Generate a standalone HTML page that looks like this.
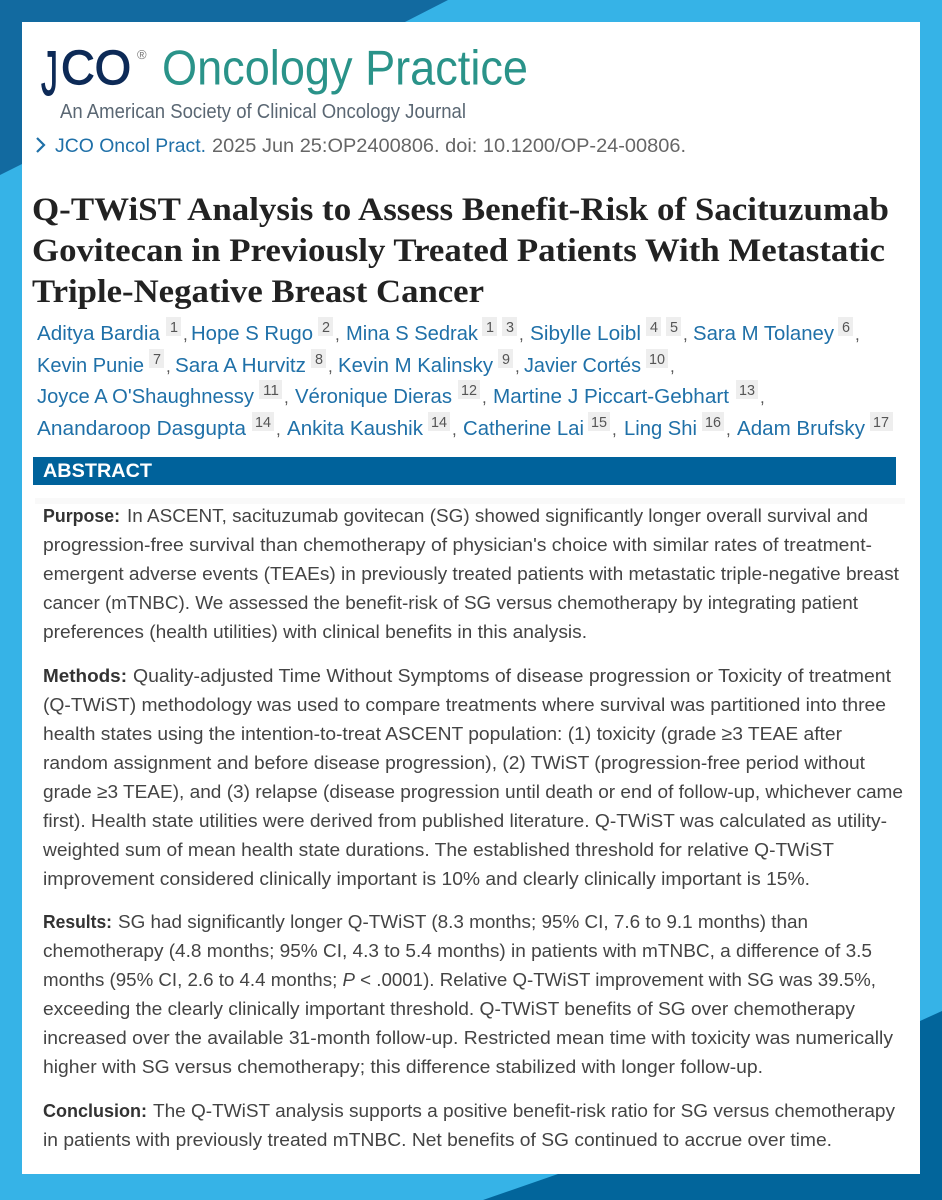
<!DOCTYPE html>
<html lang="en">
<head>
<meta charset="utf-8">
<title>Q-TWiST Analysis abstract</title>
<style>
html,body{margin:0;padding:0;width:942px;height:1200px;overflow:hidden;background:#36b3e7}
svg{display:block}
text{white-space:pre}
.body{font:18.8px "Liberation Sans",sans-serif;fill:#444}
.lead{font:bold 18.8px "Liberation Sans",sans-serif;fill:#333}
.title{font:bold 33px "Liberation Serif",serif;fill:#222}
.au{font:20px "Liberation Sans",sans-serif;fill:#1f70a8}
.sup{font:15px "Liberation Sans",sans-serif;fill:#555}
.com{font:17px "Liberation Sans",sans-serif;fill:#555}
</style>
</head>
<body>
<svg width="942" height="1200" viewBox="0 0 942 1200" xmlns="http://www.w3.org/2000/svg">
<rect width="942" height="1200" fill="#36b3e7"/>
<polygon points="0,0 448,0 403,23 22,164 0,175" fill="#126aa0"/>
<polygon points="942,1011 920,1021 558,1174 483,1200 942,1200" fill="#02659b"/>
<rect x="22" y="22" width="898" height="1152" fill="#fff"/>

<g>
<text x="41" y="95" font-family="Liberation Sans" font-size="63" fill="#0d2a57" stroke="#0d2a57" stroke-width="1" textLength="17" lengthAdjust="spacingAndGlyphs">J</text>
<text x="61" y="84" font-family="Liberation Sans" font-size="48" fill="#0d2a57" stroke="#0d2a57" stroke-width="1.2" textLength="70" lengthAdjust="spacingAndGlyphs">CO</text>
</g>
<text x="137" y="59" font-family="Liberation Sans" font-size="13" fill="#777">®</text>
<text x="162" y="84.5" font-family="Liberation Sans" font-size="49" fill="#2a9389" textLength="366" lengthAdjust="spacingAndGlyphs">Oncology Practice</text>
<text x="60" y="118" font-family="Liberation Sans" font-size="20" fill="#5a6773" textLength="406" lengthAdjust="spacingAndGlyphs">An American Society of Clinical Oncology Journal</text>
<polyline points="37,138 44,145 37,152" fill="none" stroke="#1f70a8" stroke-width="2.2"/>
<text x="55" y="152" font-family="Liberation Sans" font-size="19.5" fill="#1f70a8" textLength="151" lengthAdjust="spacingAndGlyphs">JCO Oncol Pract.</text>
<text x="212" y="152" font-family="Liberation Sans" font-size="19.5" fill="#666" textLength="474" lengthAdjust="spacingAndGlyphs">2025 Jun 25:OP2400806. doi: 10.1200/OP-24-00806.</text>

<text class="title" x="32" y="220" textLength="857" lengthAdjust="spacingAndGlyphs">Q-TWiST Analysis to Assess Benefit-Risk of Sacituzumab</text>
<text class="title" x="32" y="261" textLength="853" lengthAdjust="spacingAndGlyphs">Govitecan in Previously Treated Patients With Metastatic</text>
<text class="title" x="32" y="302" textLength="452" lengthAdjust="spacingAndGlyphs">Triple-Negative Breast Cancer</text>

<g>
<text class="au" x="37" y="340" textLength="123" lengthAdjust="spacingAndGlyphs">Aditya Bardia</text>
<rect x="166" y="317" width="15" height="19" fill="#eee"/><text class="sup" x="170" y="332" textLength="8" lengthAdjust="spacingAndGlyphs">1</text><text class="com" x="183" y="340">,</text>
<text class="au" x="191" y="340" textLength="122" lengthAdjust="spacingAndGlyphs">Hope S Rugo</text>
<rect x="318" y="317" width="15" height="19" fill="#eee"/><text class="sup" x="322" y="332" textLength="8" lengthAdjust="spacingAndGlyphs">2</text><text class="com" x="335" y="340">,</text>
<text class="au" x="346" y="340" textLength="132" lengthAdjust="spacingAndGlyphs">Mina S Sedrak</text>
<rect x="482" y="317" width="15" height="19" fill="#eee"/><text class="sup" x="486" y="332" textLength="8" lengthAdjust="spacingAndGlyphs">1</text>
<rect x="502" y="317" width="15" height="19" fill="#eee"/><text class="sup" x="506" y="332" textLength="8" lengthAdjust="spacingAndGlyphs">3</text><text class="com" x="519" y="340">,</text>
<text class="au" x="530" y="340" textLength="111" lengthAdjust="spacingAndGlyphs">Sibylle Loibl</text>
<rect x="646" y="317" width="15" height="19" fill="#eee"/><text class="sup" x="650" y="332" textLength="8" lengthAdjust="spacingAndGlyphs">4</text>
<rect x="666" y="317" width="15" height="19" fill="#eee"/><text class="sup" x="670" y="332" textLength="8" lengthAdjust="spacingAndGlyphs">5</text><text class="com" x="683" y="340">,</text>
<text class="au" x="693" y="340" textLength="141" lengthAdjust="spacingAndGlyphs">Sara M Tolaney</text>
<rect x="838" y="317" width="15" height="19" fill="#eee"/><text class="sup" x="842" y="332" textLength="8" lengthAdjust="spacingAndGlyphs">6</text><text class="com" x="855" y="340">,</text>
</g>
<g>
<text class="au" x="37" y="372" textLength="107" lengthAdjust="spacingAndGlyphs">Kevin Punie</text>
<rect x="149" y="349" width="15" height="19" fill="#eee"/><text class="sup" x="153" y="364" textLength="8" lengthAdjust="spacingAndGlyphs">7</text><text class="com" x="166" y="372">,</text>
<text class="au" x="175" y="372" textLength="131" lengthAdjust="spacingAndGlyphs">Sara A Hurvitz</text>
<rect x="311" y="349" width="15" height="19" fill="#eee"/><text class="sup" x="315" y="364" textLength="8" lengthAdjust="spacingAndGlyphs">8</text><text class="com" x="328" y="372">,</text>
<text class="au" x="338" y="372" textLength="155" lengthAdjust="spacingAndGlyphs">Kevin M Kalinsky</text>
<rect x="498" y="349" width="15" height="19" fill="#eee"/><text class="sup" x="502" y="364" textLength="8" lengthAdjust="spacingAndGlyphs">9</text><text class="com" x="515" y="372">,</text>
<text class="au" x="524" y="372" textLength="117" lengthAdjust="spacingAndGlyphs">Javier Cortés</text>
<rect x="646" y="349" width="22" height="19" fill="#eee"/><text class="sup" x="649" y="364" textLength="16" lengthAdjust="spacingAndGlyphs">10</text><text class="com" x="670" y="372">,</text>
</g>
<g>
<text class="au" x="37" y="403" textLength="217" lengthAdjust="spacingAndGlyphs">Joyce A O'Shaughnessy</text>
<rect x="259" y="380" width="23" height="19" fill="#eee"/><text class="sup" x="263" y="395" textLength="16" lengthAdjust="spacingAndGlyphs">11</text><text class="com" x="284" y="403">,</text>
<text class="au" x="295" y="403" textLength="157" lengthAdjust="spacingAndGlyphs">Véronique Dieras</text>
<rect x="458" y="380" width="22" height="19" fill="#eee"/><text class="sup" x="461" y="395" textLength="16" lengthAdjust="spacingAndGlyphs">12</text><text class="com" x="482" y="403">,</text>
<text class="au" x="493" y="403" textLength="236" lengthAdjust="spacingAndGlyphs">Martine J Piccart-Gebhart</text>
<rect x="736" y="380" width="22" height="19" fill="#eee"/><text class="sup" x="739" y="395" textLength="16" lengthAdjust="spacingAndGlyphs">13</text><text class="com" x="760" y="403">,</text>
</g>
<g>
<text class="au" x="37" y="435" textLength="209" lengthAdjust="spacingAndGlyphs">Anandaroop Dasgupta</text>
<rect x="252" y="412" width="22" height="19" fill="#eee"/><text class="sup" x="255" y="427" textLength="16" lengthAdjust="spacingAndGlyphs">14</text><text class="com" x="276" y="435">,</text>
<text class="au" x="287" y="435" textLength="136" lengthAdjust="spacingAndGlyphs">Ankita Kaushik</text>
<rect x="428" y="412" width="22" height="19" fill="#eee"/><text class="sup" x="431" y="427" textLength="16" lengthAdjust="spacingAndGlyphs">14</text><text class="com" x="452" y="435">,</text>
<text class="au" x="463" y="435" textLength="121" lengthAdjust="spacingAndGlyphs">Catherine Lai</text>
<rect x="588" y="412" width="22" height="19" fill="#eee"/><text class="sup" x="591" y="427" textLength="16" lengthAdjust="spacingAndGlyphs">15</text><text class="com" x="612" y="435">,</text>
<text class="au" x="624" y="435" textLength="73" lengthAdjust="spacingAndGlyphs">Ling Shi</text>
<rect x="702" y="412" width="22" height="19" fill="#eee"/><text class="sup" x="705" y="427" textLength="16" lengthAdjust="spacingAndGlyphs">16</text><text class="com" x="726" y="435">,</text>
<text class="au" x="737" y="435" textLength="128" lengthAdjust="spacingAndGlyphs">Adam Brufsky</text>
<rect x="870" y="412" width="23" height="19" fill="#eee"/><text class="sup" x="873" y="427" textLength="16" lengthAdjust="spacingAndGlyphs">17</text>
</g>

<rect x="33" y="457" width="863" height="28" fill="#00629b"/>
<text x="43" y="477" font-family="Liberation Sans" font-weight="bold" font-size="19" fill="#fff" textLength="109" lengthAdjust="spacingAndGlyphs">ABSTRACT</text>
<rect x="35" y="498" width="870" height="6" fill="#f9f9f9"/>

<g>
<text class="lead" x="43" y="522" textLength="77" lengthAdjust="spacingAndGlyphs">Purpose:</text>
<text class="body" x="127" y="522" textLength="741" lengthAdjust="spacingAndGlyphs">In ASCENT, sacituzumab govitecan (SG) showed significantly longer overall survival and</text>
<text class="body" x="43" y="551" textLength="829" lengthAdjust="spacingAndGlyphs">progression-free survival than chemotherapy of physician's choice with similar rates of treatment-</text>
<text class="body" x="43" y="580" textLength="856" lengthAdjust="spacingAndGlyphs">emergent adverse events (TEAEs) in previously treated patients with metastatic triple-negative breast</text>
<text class="body" x="43" y="609" textLength="815" lengthAdjust="spacingAndGlyphs">cancer (mTNBC). We assessed the benefit-risk of SG versus chemotherapy by integrating patient</text>
<text class="body" x="43" y="638" textLength="544" lengthAdjust="spacingAndGlyphs">preferences (health utilities) with clinical benefits in this analysis.</text>
</g>
<g>
<text class="lead" x="43" y="682" textLength="84" lengthAdjust="spacingAndGlyphs">Methods:</text>
<text class="body" x="133" y="682" textLength="758" lengthAdjust="spacingAndGlyphs">Quality-adjusted Time Without Symptoms of disease progression or Toxicity of treatment</text>
<text class="body" x="43" y="711" textLength="843" lengthAdjust="spacingAndGlyphs">(Q-TWiST) methodology was used to compare treatments where survival was partitioned into three</text>
<text class="body" x="43" y="740" textLength="799" lengthAdjust="spacingAndGlyphs">health states using the intention-to-treat ASCENT population: (1) toxicity (grade ≥3 TEAE after</text>
<text class="body" x="43" y="769" textLength="822" lengthAdjust="spacingAndGlyphs">random assignment and before disease progression), (2) TWiST (progression-free period without</text>
<text class="body" x="43" y="798" textLength="860" lengthAdjust="spacingAndGlyphs">grade ≥3 TEAE), and (3) relapse (disease progression until death or end of follow-up, whichever came</text>
<text class="body" x="43" y="827" textLength="844" lengthAdjust="spacingAndGlyphs">first). Health state utilities were derived from published literature. Q-TWiST was calculated as utility-</text>
<text class="body" x="43" y="856" textLength="791" lengthAdjust="spacingAndGlyphs">weighted sum of mean health state durations. The established threshold for relative Q-TWiST</text>
<text class="body" x="43" y="885" textLength="767" lengthAdjust="spacingAndGlyphs">improvement considered clinically important is 10% and clearly clinically important is 15%.</text>
</g>
<g>
<text class="lead" x="43" y="928" textLength="69" lengthAdjust="spacingAndGlyphs">Results:</text>
<text class="body" x="118" y="928" textLength="690" lengthAdjust="spacingAndGlyphs">SG had significantly longer Q-TWiST (8.3 months; 95% CI, 7.6 to 9.1 months) than</text>
<text class="body" x="43" y="957" textLength="829" lengthAdjust="spacingAndGlyphs">chemotherapy (4.8 months; 95% CI, 4.3 to 5.4 months) in patients with mTNBC, a difference of 3.5</text>
<text class="body" x="43" y="986" textLength="833" lengthAdjust="spacingAndGlyphs">months (95% CI, 2.6 to 4.4 months; <tspan font-style="italic">P</tspan> &lt; .0001). Relative Q-TWiST improvement with SG was 39.5%,</text>
<text class="body" x="43" y="1015" textLength="812" lengthAdjust="spacingAndGlyphs">exceeding the clearly clinically important threshold. Q-TWiST benefits of SG over chemotherapy</text>
<text class="body" x="43" y="1044" textLength="850" lengthAdjust="spacingAndGlyphs">increased over the available 31-month follow-up. Restricted mean time with toxicity was numerically</text>
<text class="body" x="43" y="1073" textLength="720" lengthAdjust="spacingAndGlyphs">higher with SG versus chemotherapy; this difference stabilized with longer follow-up.</text>
</g>
<g>
<text class="lead" x="43" y="1117" textLength="104" lengthAdjust="spacingAndGlyphs">Conclusion:</text>
<text class="body" x="153" y="1117" textLength="742" lengthAdjust="spacingAndGlyphs">The Q-TWiST analysis supports a positive benefit-risk ratio for SG versus chemotherapy</text>
<text class="body" x="43" y="1146" textLength="789" lengthAdjust="spacingAndGlyphs">in patients with previously treated mTNBC. Net benefits of SG continued to accrue over time.</text>
</g>
</svg>
</body>
</html>
